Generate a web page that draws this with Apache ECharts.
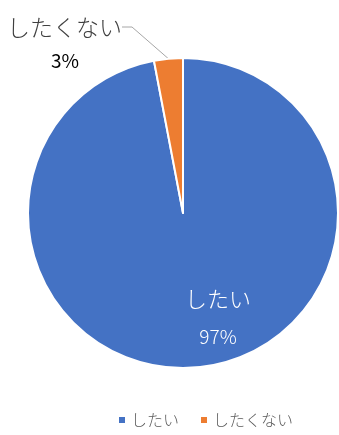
<!DOCTYPE html>
<html>
<head>
<meta charset="utf-8">
<script src="https://cdn.jsdelivr.net/npm/echarts@6/dist/echarts.min.js"></script>
<style>
  html, body { margin: 0; padding: 0; background: #fff; }
  #main { width: 339px; height: 435px; }
</style>
</head>
<body>
<div id="main"></div>
<script>
// 回答カテゴリと割合
var categories = ['したい', 'したくない'];
var values = [97, 3];
var colors = ['#4472C4', '#ED7D31'];

var chart = echarts.init(document.getElementById('main'));

var pieData = categories.map(function (name, i) {
  return { name: name, value: values[i], itemStyle: { color: colors[i] } };
});
// したい は内側、したくない は外側に引き出し線つき
pieData[0].label = {
  position: 'inside',
  formatter: '{b}\n{p|{c}%}',
  color: '#fff',
  fontSize: 22,
  fontWeight: 300,
  lineHeight: 38,
  rich: { p: { fontSize: 19, color: '#fff', lineHeight: 38 } }
};
pieData[1].label = {
  position: 'outside',
  formatter: '{b}',
  color: '#404040',
  fontSize: 23,
  fontWeight: 300
};
pieData[1].labelLine = { show: true, length: 20, length2: 10, lineStyle: { color: '#A6A6A6', width: 1 } };

// 外側ラベルの割合だけ（透明な重ね円で表示）
var pctData = categories.map(function (name, i) {
  return {
    name: name, value: values[i],
    label: { show: i === 1 }
  };
});

var option = {
  textStyle: { fontFamily: '"Noto Sans CJK JP", "Noto Sans", sans-serif' },
  animation: false,
  legend: {
    data: categories,
    bottom: 2,
    left: 112,
    icon: 'rect',
    itemWidth: 8,
    itemHeight: 8,
    itemGap: 20,
    textStyle: { color: '#595959', fontSize: 16, fontWeight: 300 }
  },
  series: [
    {
      type: 'pie',
      center: [183, 213],
      radius: [0, 155],
      startAngle: 90,
      clockwise: true,
      avoidLabelOverlap: false,
      itemStyle: { borderColor: '#fff', borderWidth: 2 },
      labelLayout: function (params) {
        if (params.dataIndex === 0) {
          return { x: 218, y: 318, align: 'center', verticalAlign: 'middle' };
        }
        return { x: 122, y: 27, align: 'right', verticalAlign: 'middle' };
      },
      data: pieData
    },
    {
      type: 'pie',
      silent: true,
      legendHoverLink: false,
      center: [183, 213],
      radius: [0, 155],
      startAngle: 90,
      clockwise: true,
      avoidLabelOverlap: false,
      itemStyle: { color: 'rgba(0,0,0,0)', borderWidth: 0 },
      label: {
        position: 'outside',
        formatter: '{c}%',
        color: '#000',
        fontSize: 19
      },
      labelLine: { show: false },
      labelLayout: function () {
        return { x: 65, y: 61, align: 'center', verticalAlign: 'middle' };
      },
      data: pctData
    }
  ]
};

chart.setOption(option);
window.onresize = function () { chart.resize(); };
</script>
</body>
</html>
